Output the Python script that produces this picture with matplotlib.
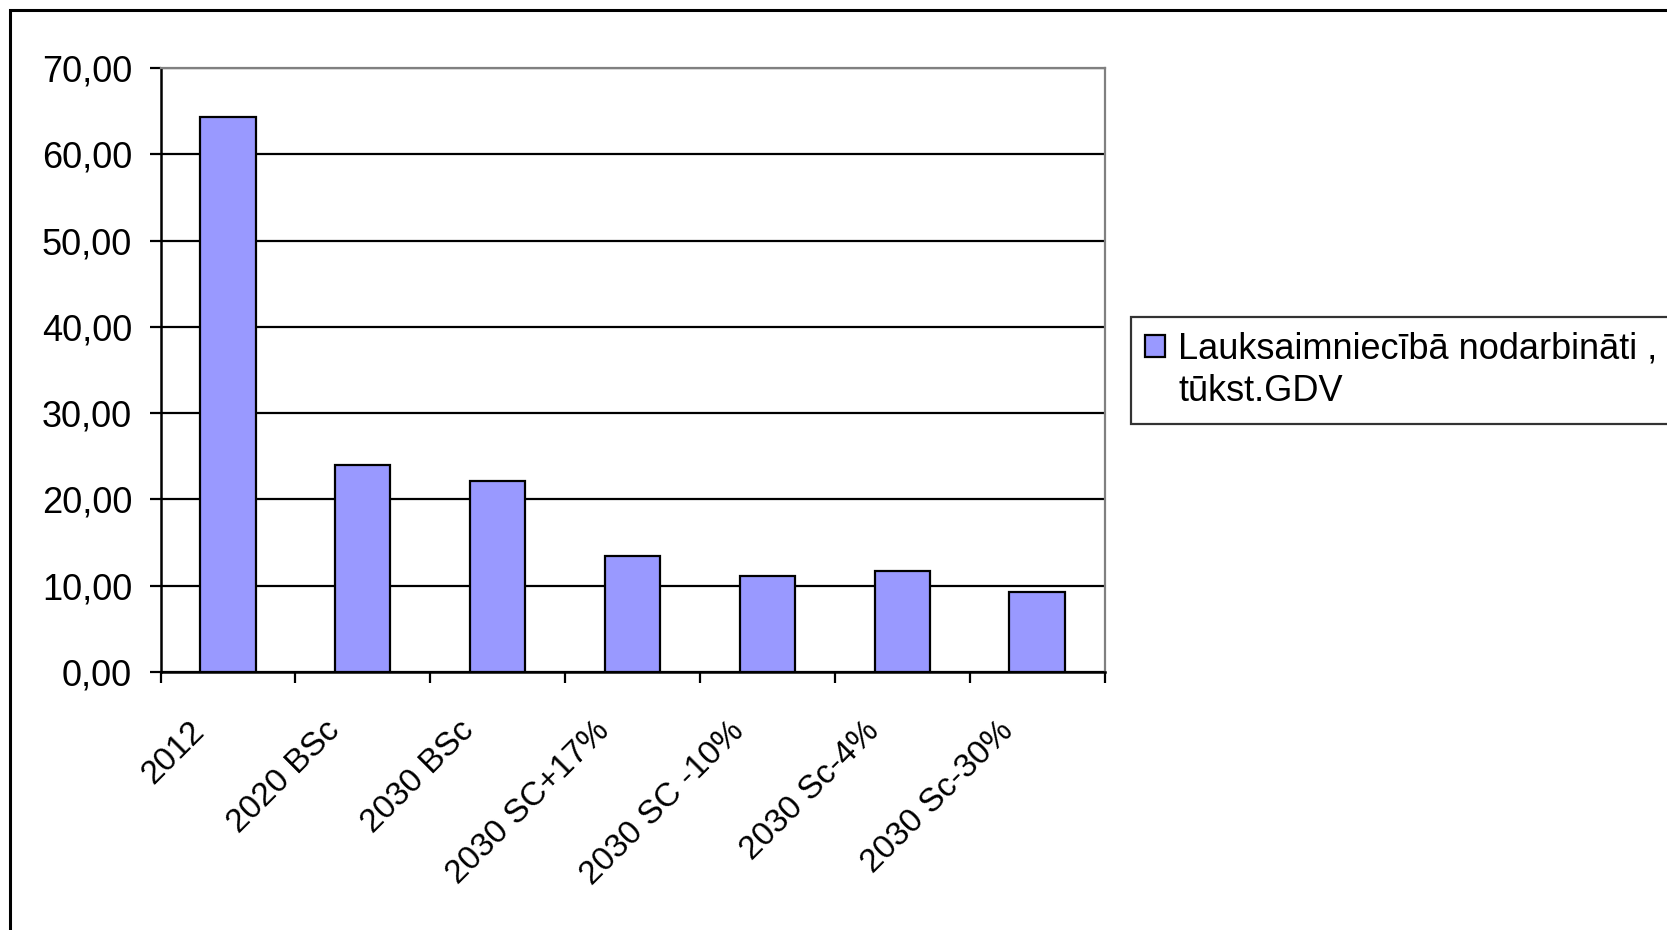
import matplotlib
matplotlib.use("Agg")
import matplotlib.pyplot as plt
from matplotlib.patches import Rectangle
from matplotlib.ticker import FuncFormatter
from matplotlib.transforms import ScaledTranslation
import numpy as np

plt.rcParams["font.family"] = ["Liberation Sans", "DejaVu Sans"]

categories = ["2012", "2020 BSc", "2030 BSc", "2030 SC+17%", "2030 SC -10%",
              "2030 Sc-4%", "2030 Sc-30%"]
values = [64.3, 24.0, 22.1, 13.5, 11.1, 11.7, 9.3]
series_name = ["Lauksaimniecībā nodarbināti ,", "tūkst.GDV"]

W, H = 1667, 930
fig = plt.figure(figsize=(W / 100, H / 100), dpi=100)
ax = fig.add_axes([160.5 / W, 1 - 672 / H, (1104.5 - 160.5) / W, (672 - 68) / H])

x = np.arange(len(categories))
bars = ax.bar(x, values, width=0.41, color="#9999FF", edgecolor="black", lw=1.6,
              zorder=3)

ax.set_xlim(-0.5, len(categories) - 0.5)
ax.set_ylim(0, 70)
ax.set_yticks(np.arange(0, 71, 10))
ax.yaxis.set_major_formatter(FuncFormatter(lambda v, _: f"{v:.2f}".replace(".", ",")))
ax.yaxis.grid(True, color="black", lw=1.6, zorder=1)
ax.tick_params(axis="y", direction="out", length=8, width=1.6, pad=12.5,
               labelsize=26, colors="black")

# tick marks between categories, labels at category centres
ax.set_xticks(np.arange(-0.5, len(categories)), minor=False)
ax.set_xticklabels([])
ax.set_xticks(x, minor=True)
ax.set_xticklabels(categories, minor=True, rotation=45, ha="right",
                   va="center", rotation_mode="anchor", fontsize=24)
ax.tick_params(axis="x", which="major", direction="out", length=8, width=1.6)
ax.tick_params(axis="x", which="minor", length=0, pad=39)
for lbl in ax.get_xticklabels(minor=True):
    lbl.set_transform(lbl.get_transform() +
                      ScaledTranslation(-0.28, 0, fig.dpi_scale_trans))

for side in ("top", "right"):
    ax.spines[side].set_color("#808080")
    ax.spines[side].set_linewidth(1.6)
for side in ("left", "bottom"):
    ax.spines[side].set_color("black")
    ax.spines[side].set_linewidth(1.8)

# outer chart frame, open to the right and bottom
fig.patches.append(Rectangle((10 / W, -0.1), 1.2, 1.1 - 10 / H,
                             transform=fig.transFigure, fill=False,
                             edgecolor="black", lw=2.2))

# series label wraps onto a second row, marker stays on the first
blank = Rectangle((0, 0), 1, 1, fill=False, edgecolor="none")
leg = fig.legend([bars.patches[0], blank], series_name,
                 loc="upper left", bbox_to_anchor=(1131 / W, 1 - 317 / H),
                 fontsize=26, frameon=True, fancybox=False, edgecolor="black",
                 handlelength=0.55, handleheight=0.55, handletextpad=0.36,
                 borderpad=0.4, borderaxespad=0, labelspacing=0.22)
leg.get_frame().set_linewidth(1.6)

fig.savefig("out.png", dpi=100)
